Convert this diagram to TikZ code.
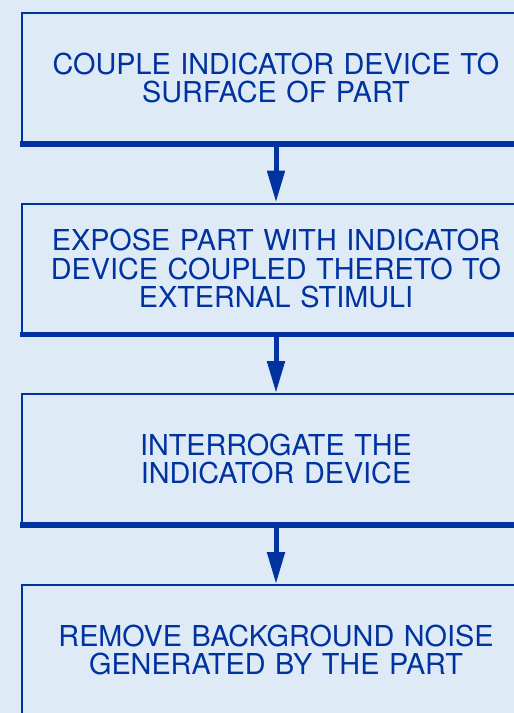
\documentclass[tikz,border=0pt]{standalone}
\usepackage{fontspec}
\setsansfont{TeX Gyre Heros}
\usepackage{tikz}
\usetikzlibrary{arrows.meta, positioning}
\definecolor{flowblue}{HTML}{0033A0}
\definecolor{flowback}{HTML}{DEEBF7}

\begin{document}
\begin{tikzpicture}[x=1pt, y=-1pt,
  stepbox/.style={rectangle, draw=flowblue, line width=2pt, fill=flowback,
    minimum width=508pt, minimum height=130pt, inner sep=0pt, text width=500pt,
    align=center, text=flowblue,
    font=\sffamily\fontsize{28.8}{28.5}\selectfont},
  baseline/.style={draw=flowblue, line width=5.5pt},
  flowarrow/.style={draw=flowblue, line width=5pt,
    -{Triangle[length=32pt, width=17pt]}}
]
  \fill[flowback] (0,0) rectangle (514,713);
  \useasboundingbox (0,0) rectangle (514,713);

  \node[stepbox] (couple) at (276, 78) {COUPLE INDICATOR DEVICE TO\\SURFACE OF PART};
  \node[stepbox] (expose) at (276, 268.5) {EXPOSE PART WITH INDICATOR\\DEVICE COUPLED THERETO TO\\EXTERNAL STIMULI};
  \node[stepbox] (interrogate) at (276, 459) {INTERROGATE THE\\INDICATOR DEVICE};
  \node[stepbox] (remove) at (276, 650) {REMOVE BACKGROUND NOISE\\GENERATED BY THE PART};

  \foreach \b in {couple, expose, interrogate, remove}
    \draw[baseline] ([xshift=-1pt]\b.south west) -- ([xshift=1pt]\b.south east);

  \draw[flowarrow] (couple.south) -- (expose.north);
  \draw[flowarrow] (expose.south) -- (interrogate.north);
  \draw[flowarrow] (interrogate.south) -- (remove.north);
\end{tikzpicture}
\end{document}
